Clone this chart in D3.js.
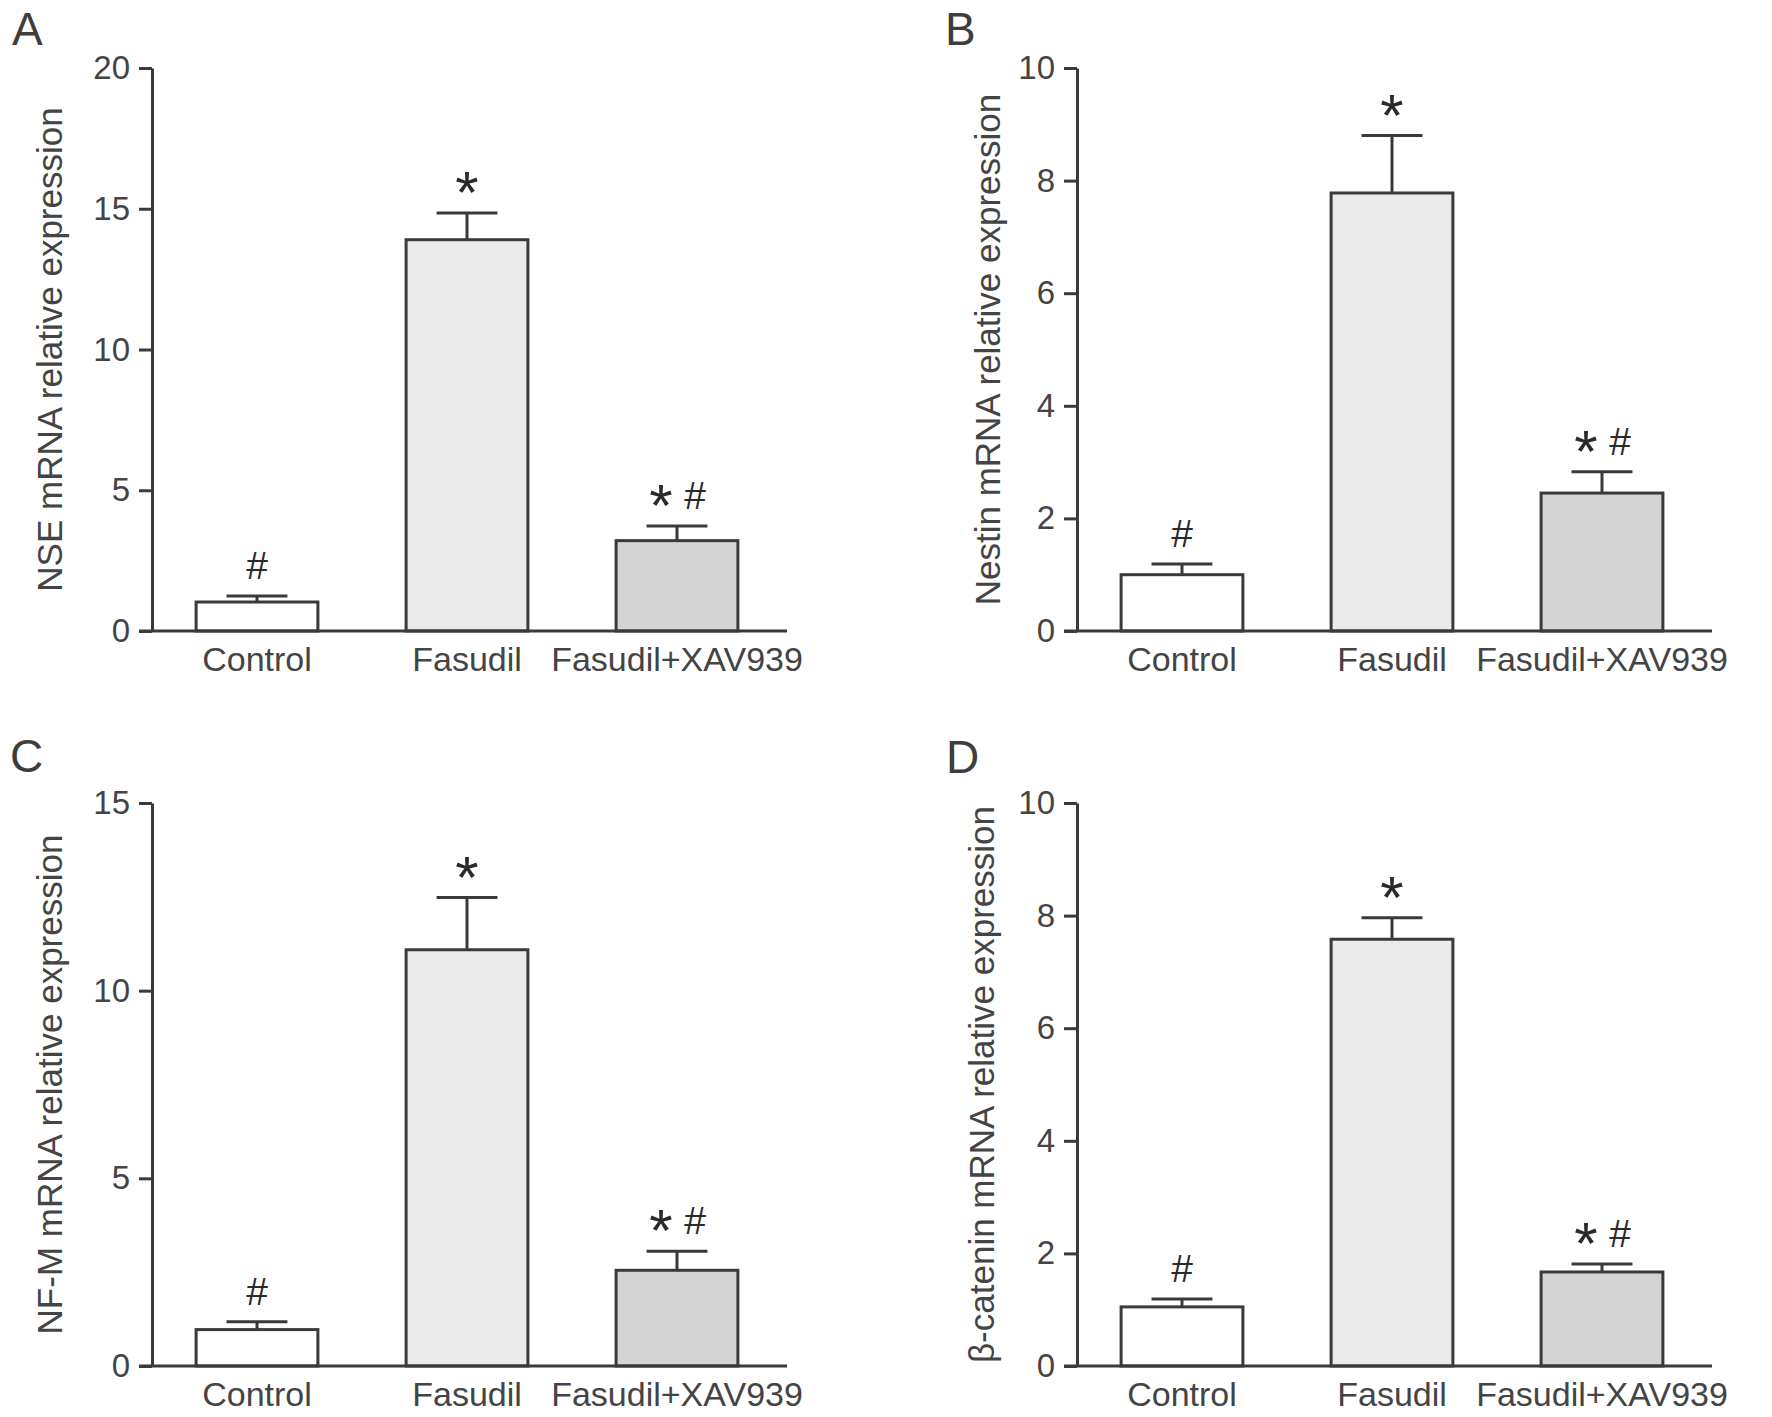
<!DOCTYPE html>
<html>
<head>
<meta charset="utf-8">
<script src="https://cdn.jsdelivr.net/npm/d3@7"></script>
<style>
  body { margin: 0; background: #fff; }
  text { font-family: "Liberation Sans", Arial, sans-serif; fill: #3d3d3d; }
</style>
</head>
<body>
<svg id="chart" width="1772" height="1417"></svg>
<script>
// data
const categories = ['Control', 'Fasudil', 'Fasudil+XAV939'];
const fills = ['#ffffff', '#ebebeb', '#d4d4d4'];
const sigMarks = ['#', '*', '* #'];

const nseMean = [1.03, 13.9, 3.21];
const nseErr = [0.21, 0.95, 0.52];
const nestinMean = [1.0, 7.78, 2.45];
const nestinErr = [0.19, 1.02, 0.38];
const nfmMean = [0.97, 11.09, 2.55];
const nfmErr = [0.21, 1.39, 0.51];
const cateninMean = [1.05, 7.58, 1.67];
const cateninErr = [0.14, 0.38, 0.14];

const nseTicks = [0, 5, 10, 15, 20];
const nestinTicks = [0, 2, 4, 6, 8, 10];
const nfmTicks = [0, 5, 10, 15];
const cateninTicks = [0, 2, 4, 6, 8, 10];

const panels = [
  { letter: 'A', label: 'NSE mRNA relative expression', mean: nseMean, err: nseErr, ticks: nseTicks,
    ox: 152, oy: 68, lx: 12, ly: 45, labOff: -90 },
  { letter: 'B', label: 'Nestin mRNA relative expression', mean: nestinMean, err: nestinErr, ticks: nestinTicks,
    ox: 1077, oy: 68, lx: 945, ly: 45, labOff: -77 },
  { letter: 'C', label: 'NF-M mRNA relative expression', mean: nfmMean, err: nfmErr, ticks: nfmTicks,
    ox: 152, oy: 803, lx: 10, ly: 772, labOff: -90 },
  { letter: 'D', label: 'β-catenin mRNA relative expression', mean: cateninMean, err: cateninErr, ticks: cateninTicks,
    ox: 1077, oy: 803, lx: 946, ly: 773, labOff: -83 }
];

const plotW = 630, plotH = 563;
const ink = '#3a3a3a';
const svg = d3.select('#chart');

panels.forEach(p => {
  svg.append('text')
    .text(p.letter)
    .attr('x', p.lx)
    .attr('y', p.ly)
    .attr('font-size', '46px');

  const g = svg.append('g')
    .attr('transform', `translate(${p.ox},${p.oy})`);

  const x = d3.scaleBand()
    .domain(categories)
    .range([0, plotW])
    .paddingInner(0.42)
    .paddingOuter(0.21);

  const y = d3.scaleLinear()
    .domain([0, d3.max(p.ticks)])
    .range([plotH, 0]);

  const rows = categories.map((c, i) => ({ cat: c, mean: p.mean[i], err: p.err[i], fill: fills[i], mark: sigMarks[i] }));

  // bars
  g.selectAll('rect.bar')
    .data(rows)
    .join('rect')
    .attr('class', 'bar')
    .attr('x', d => x(d.cat))
    .attr('y', d => y(d.mean))
    .attr('width', x.bandwidth())
    .attr('height', d => y(0) - y(d.mean))
    .style('fill', d => d.fill)
    .style('stroke', ink)
    .style('stroke-width', 3);

  // error bars
  const capW = x.bandwidth() / 2;
  g.selectAll('line.err')
    .data(rows)
    .join('line')
    .attr('class', 'err')
    .attr('x1', d => x(d.cat) + x.bandwidth() / 2)
    .attr('x2', d => x(d.cat) + x.bandwidth() / 2)
    .attr('y1', d => y(d.mean))
    .attr('y2', d => y(d.mean + d.err))
    .style('stroke', ink)
    .style('stroke-width', 3);

  g.selectAll('line.cap')
    .data(rows)
    .join('line')
    .attr('class', 'cap')
    .attr('x1', d => x(d.cat) + x.bandwidth() / 2 - capW / 2)
    .attr('x2', d => x(d.cat) + x.bandwidth() / 2 + capW / 2)
    .attr('y1', d => y(d.mean + d.err))
    .attr('y2', d => y(d.mean + d.err))
    .style('stroke', ink)
    .style('stroke-width', 3);

  // significance marks
  rows.forEach(d => {
    const cx = x(d.cat) + x.bandwidth() / 2;
    const base = y(d.mean + d.err) - 17;
    const parts = d.mark.split(' ');
    parts.forEach((m, k) => {
      const dx = parts.length > 1 ? (k === 0 ? -16 : 18) : 0;
      g.append('text')
        .text(m)
        .attr('x', cx + dx)
        .attr('y', m === '*' ? base + 17 : base)
        .attr('text-anchor', 'middle')
        .attr('font-size', m === '*' ? '60px' : '39px')
        .style('fill', '#2a2a2a');
    });
  });

  // y axis
  const yAxis = g.append('g')
    .call(d3.axisLeft(y).tickValues(p.ticks).tickSize(13).tickSizeOuter(0).tickPadding(9));
  yAxis.select('.domain').style('stroke', ink).style('stroke-width', 3);
  yAxis.selectAll('.tick line').style('stroke', ink).style('stroke-width', 3);
  yAxis.selectAll('.tick text')
    .attr('font-size', '33px')
    .attr('font-family', '"Liberation Sans", Arial, sans-serif')
    .style('fill', '#444');

  // x axis
  const xAxis = g.append('g')
    .attr('transform', `translate(0,${plotH})`)
    .call(d3.axisBottom(x).tickSize(0).tickPadding(16));
  xAxis.select('.domain').remove();
  xAxis.selectAll('.tick text')
    .attr('font-size', '34px')
    .attr('font-family', '"Liberation Sans", Arial, sans-serif')
    .style('fill', '#444');
  g.append('line')
    .attr('x1', -13)
    .attr('x2', plotW + 5)
    .attr('y1', plotH)
    .attr('y2', plotH)
    .style('stroke', ink)
    .style('stroke-width', 3);

  // y label
  g.append('text')
    .text(p.label)
    .attr('transform', `translate(${p.labOff},${plotH / 2}) rotate(-90)`)
    .attr('text-anchor', 'middle')
    .attr('font-size', '35px')
    .style('fill', '#444');
});
</script>
</body>
</html>
